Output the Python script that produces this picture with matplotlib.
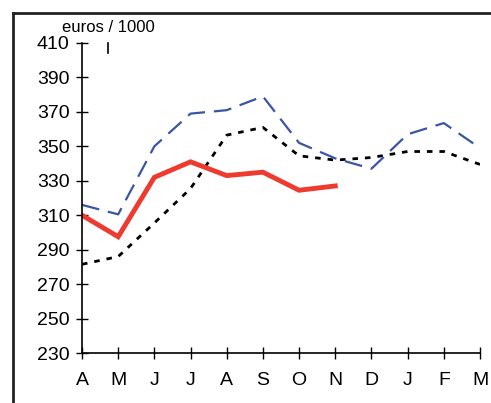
import matplotlib.pyplot as plt
from matplotlib.lines import Line2D

plt.rcParams['font.family'] = ['Liberation Sans', 'DejaVu Sans']

months = ['A', 'M', 'J', 'J', 'A', 'S', 'O', 'N', 'D', 'J', 'F', 'M']
# red = current year (stops in November)
current = [310, 297.5, 332, 341, 333, 335, 324.5, 327]
# blue dashed and black dotted = earlier years
prev_year = [316, 310.5, 350, 369, 371, 379, 352, 343, 337, 357, 363.5, 349]
avg_years = [281.5, 286, 305.5, 325.5, 356.5, 361, 344.5, 342, 343.5, 347, 347, 339.5]
yticks = [230, 250, 270, 290, 310, 330, 350, 370, 390, 410]

fig = plt.figure(figsize=(4.91, 4.03), dpi=100)
ax = fig.add_axes([82/491, 50/403, 398/491, 310/403])

x = range(len(months))
ax.plot(x, avg_years, color='black', lw=2, linestyle=(0, (2, 2.5)))
ax.plot(x, prev_year, color='#3a55a4', lw=1.6, linestyle=(0, (8, 4)))
ax.plot(range(len(current)), current, color='#ee3a2f', lw=3.5, solid_joinstyle='miter')

ax.set_xlim(0, len(months) - 1)
ax.set_ylim(230, 410)
ax.set_xticks(list(x))
ax.set_xticklabels(months)
ax.set_yticks(yticks)
for s in ['top', 'right']:
    ax.spines[s].set_visible(False)
for s in ['left', 'bottom']:
    ax.spines[s].set_linewidth(1.2)
ax.tick_params(direction='inout', length=8, width=1, labelsize=14)
ax.tick_params(axis='x', pad=10)
ax.tick_params(axis='y', pad=5)

fig.text(62/491, 1 - 27/403, 'euros / 1000', fontsize=12, va='center', ha='left')
fig.add_artist(Line2D([108/491, 108/491], [1 - 43/403, 1 - 53/403], color='black', lw=1.2))

# partial frame around the figure
fig.add_artist(Line2D([13/491, 13/491], [0, 1 - 13/403], color='#222222', lw=2))
fig.add_artist(Line2D([13/491, 1], [1 - 13/403, 1 - 13/403], color='#222222', lw=2))

fig.savefig('out.png', dpi=100)
